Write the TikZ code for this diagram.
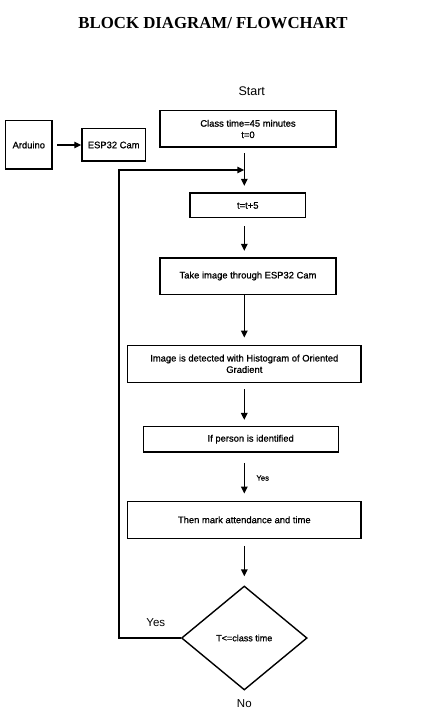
\documentclass[tikz,border=0pt]{standalone}
\usepackage{fontspec}
\setmainfont{Liberation Sans}
\newfontfamily\boxfont{Liberation Sans}[AutoFakeBold=0.9]
\newfontfamily\titlefont{Liberation Serif}
\usetikzlibrary{arrows.meta,shapes.geometric}
\tikzset{
  box/.style={draw, line width=1.6pt, inner sep=0pt, align=center, font=\boxfont\bfseries\fontsize{9.4}{11.4}\selectfont},
  arr/.style={line width=1.4pt, -{Triangle[length=7pt,width=6.5pt]}},
  lbl/.style={inner sep=0pt},
}
\begin{document}
\begin{tikzpicture}[x=1pt,y=-1pt]
\useasboundingbox (0,0) rectangle (427,719);
\node[lbl, font=\titlefont\bfseries\fontsize{16.8}{20}\selectfont] (title) at (213,23) {BLOCK DIAGRAM/ FLOWCHART};
\node[lbl, font=\fontsize{12.5}{14}\selectfont] (start) at (251.7,90.7) {Start};

\node[box, minimum width=46.3pt, minimum height=48.6pt] (ard) at (28.8,145) {Arduino};
\node[box, minimum width=63.3pt, minimum height=32.6pt] (esp) at (113.7,145) {ESP32 Cam};

\node[box, minimum width=176pt, minimum height=36.6pt] (b1) at (248,129) {Class time=45 minutes\\t=0};
\node[box, minimum width=115.7pt, minimum height=24.4pt] (b2) at (247.8,205.5) {t=t+5};
\node[box, minimum width=176pt, minimum height=36.6pt] (b3) at (248,276) {Take image through ESP32 Cam};
\node[box, minimum width=233.3pt, minimum height=37pt] (b4) at (244.3,363.8) {Image is detected with Histogram of Oriented\\Gradient};
\node[box, minimum width=195pt, minimum height=25.7pt] (b5) at (240.8,439.2) {\hspace*{19.8pt}If person is identified};
\node[box, minimum width=233.3pt, minimum height=37pt] (b6) at (244.3,519.8) {Then mark attendance and time};
\node[draw, diamond, line width=1.4pt, inner sep=0pt, minimum width=125.6pt, minimum height=104pt, font=\boxfont\bfseries\fontsize{9}{11}\selectfont] (dia) at (244.3,638) {T<=class time};

\coordinate (mx) at (244.3,0);
\coordinate (fbb) at (119,638);
\coordinate (fbt) at (119,170);
\coordinate (fbe) at (244.3,170);

\draw[arr, shorten <=4.5pt] (ard.east) -- (esp.west);
\draw[arr, shorten <=5.4pt, shorten >=6.6pt] (b1.south -| mx) -- (b2.north -| mx);
\draw[arr, shorten <=7.5pt, shorten >=6pt] (b2.south -| mx) -- (b3.north -| mx);
\draw[arr, shorten >=7pt] (b3.south -| mx) -- (b4.north -| mx);
\draw[arr, shorten <=6pt, shorten >=5.6pt] (b4.south) -- (b5.north -| mx);
\draw[arr, shorten <=10pt, shorten >=7pt] (b5.south -| mx) -- (b6.north);
\draw[arr, shorten <=6.7pt, shorten >=9pt] (b6.south) -- (dia.north);
\draw[arr] (dia.west) -- (fbb) -- (fbt) -- (fbe);

\node[lbl, font=\boxfont\bfseries\fontsize{7.7}{9}\selectfont] (yes1) at (262.7,478) {Yes};
\node[lbl, font=\fontsize{11.5}{13}\selectfont] (yes2) at (155.8,622.3) {Yes};
\node[lbl, font=\fontsize{11.5}{13}\selectfont] (no) at (244.3,703.3) {No};
\end{tikzpicture}
\end{document}
